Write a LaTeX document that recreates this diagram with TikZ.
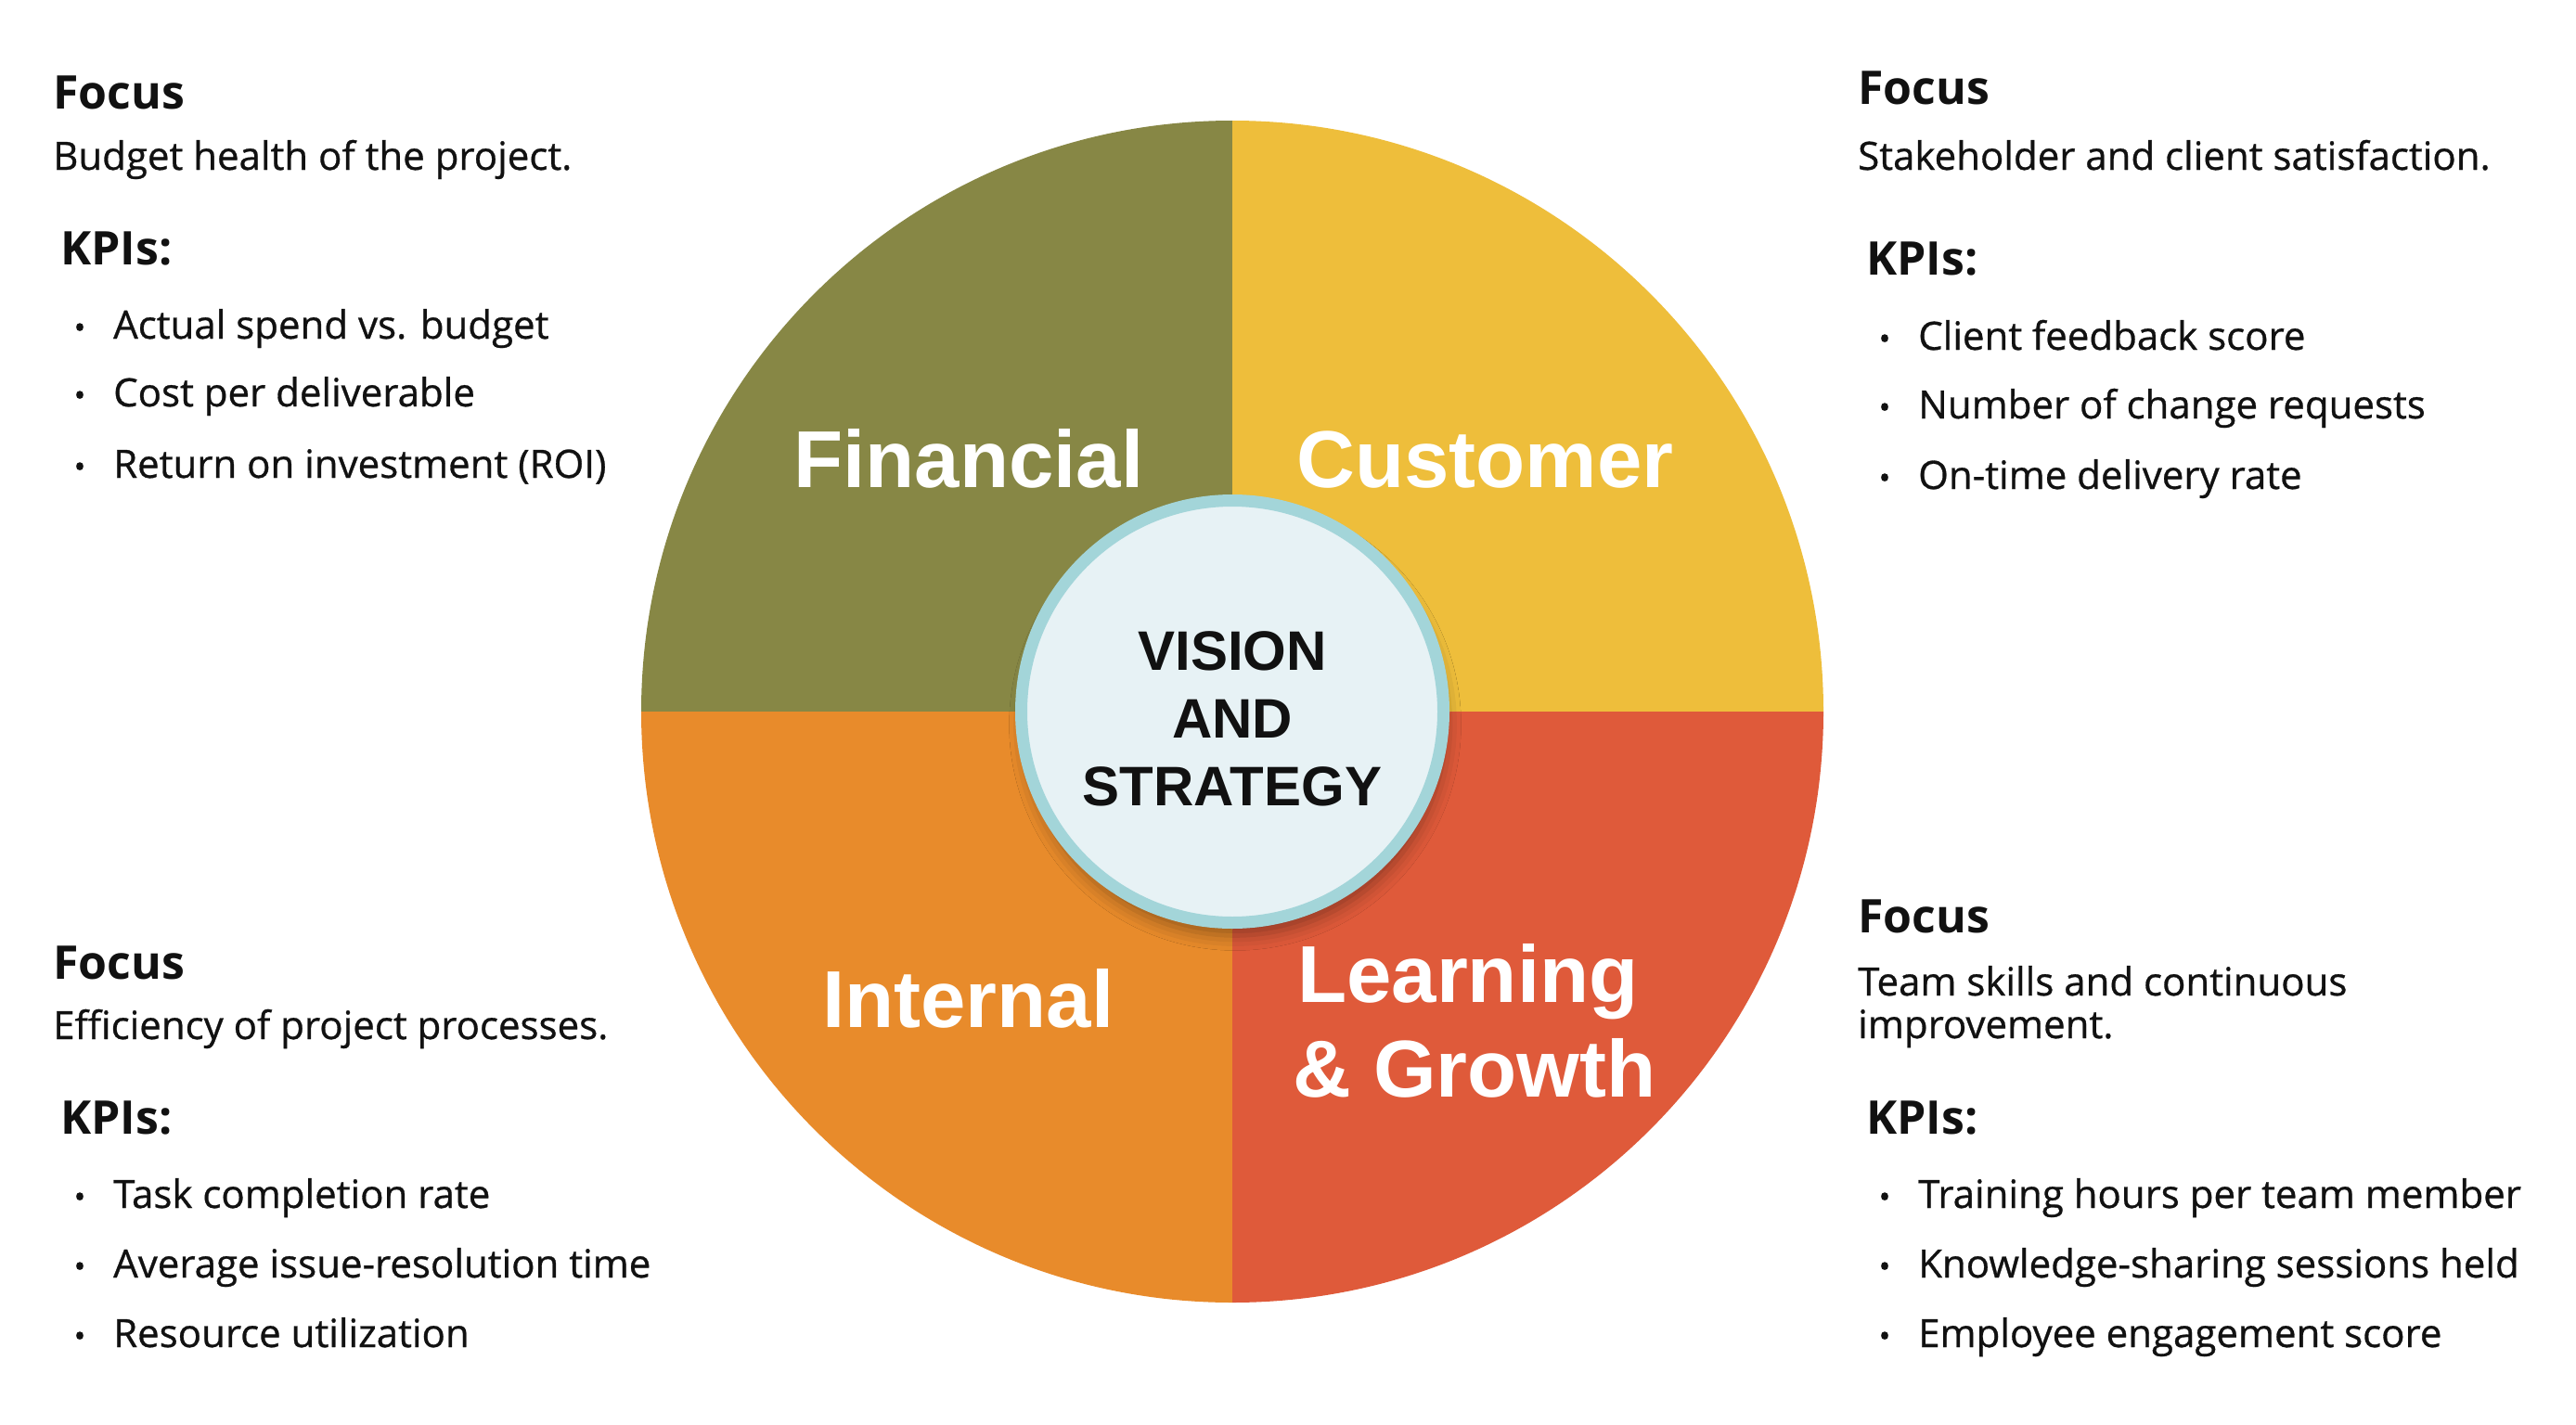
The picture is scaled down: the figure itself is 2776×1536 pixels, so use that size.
\documentclass[tikz,border=0pt]{standalone}
\usepackage{fontspec}
\setmainfont{Open Sans}
\newfontfamily\bodyfont{Open Sans}[FakeBold=0.7]
\newfontfamily\labelfont{Liberation Sans}
\usetikzlibrary{shadows.blur}
\definecolor{finc}{HTML}{878745}
\definecolor{cusc}{HTML}{EEBE3B}
\definecolor{intc}{HTML}{E88B2B}
\definecolor{lrnc}{HTML}{DF5A3A}
\definecolor{ringc}{HTML}{A3D5D9}
\definecolor{innerc}{HTML}{E7F2F5}
\definecolor{inkc}{HTML}{111111}
\tikzset{
  hdst/.style={anchor=base west, inner sep=0pt, text=inkc, font=\bfseries\fontsize{50}{60}\selectfont},
  descst/.style={anchor=base west, inner sep=0pt, text=inkc, font=\bodyfont\fontsize{42}{50}\selectfont},
  dotst/.style={anchor=base, inner sep=0pt, text=inkc, font=\bodyfont\fontsize{34}{34}\selectfont},
  itemst/.style={anchor=base west, inner sep=0pt, text=inkc, font=\bodyfont\fontsize{42}{50}\selectfont},
  quadlabel/.style={anchor=base west, inner sep=0pt, text=white, font=\labelfont\bfseries\fontsize{87}{100}\selectfont},
}
\begin{document}
\begin{tikzpicture}[x=1pt,y=-1pt]
\useasboundingbox (0,0) rectangle (2776,1536);
\fill[white] (0,0) rectangle (2776,1536);

% quadrants
\begin{scope}
  \clip (1328,767) circle[radius=637];
  \fill[finc] (1328,767) rectangle (680,120);
  \fill[cusc] (1328,767) rectangle (1976,120);
  \fill[intc] (1328,767) rectangle (680,1414);
  \fill[lrnc] (1328,767) rectangle (1976,1414);
\end{scope}

% quadrant labels
\node[quadlabel] (finlab) at (855,525) {Financial};
\node[quadlabel] (cuslab) at (1397,525) {Customer};
\node[quadlabel] (intlab) at (886,1107) {Internal};
\node[quadlabel] (lrnlab1) at (1398,1080) {Learning};
\node[quadlabel] (lrnlab2) at (1393,1182) {\&~Growth};

% center
\node[circle, draw=ringc, line width=13pt, fill=innerc, minimum size=455pt, inner sep=0pt,
      blur shadow={shadow xshift=3pt, shadow yshift=-14pt, shadow blur radius=16pt, shadow opacity=35}]
      (vision) at (1328,767) {};
\node[align=center, inner sep=0pt, text=inkc, font=\labelfont\bfseries\fontsize{60}{73}\selectfont]
      (visiontxt) at (1328,775) {VISION\\AND\\STRATEGY};

% top-left: Financial
\node[hdst] (tlfocus) at (57,118) {Focus};
\node[descst] (tldesc) at (57,183) {Budget health of the project.};
\node[hdst] (tlkpi) at (65,285) {KPIs:};
\node[dotst] (tld1) at (86,365) {•};
\node[itemst] (tli1) at (122,365) {Actual spend vs. budget};
\node[dotst] (tld2) at (86,438) {•};
\node[itemst] (tli2) at (122,438) {Cost per deliverable};
\node[dotst] (tld3) at (86,515) {•};
\node[itemst] (tli3) at (122,515) {Return on investment (ROI)};

% top-right: Customer
\node[hdst] (trfocus) at (2002,113) {Focus};
\node[descst] (trdesc) at (2002,183) {Stakeholder and client satisfaction.};
\node[hdst] (trkpi) at (2011,296) {KPIs:};
\node[dotst] (trd1) at (2031,377) {•};
\node[itemst] (tri1) at (2067,377) {Client feedback score};
\node[dotst] (trd2) at (2031,451) {•};
\node[itemst] (tri2) at (2067,451) {Number of change requests};
\node[dotst] (trd3) at (2031,527) {•};
\node[itemst] (tri3) at (2067,527) {On-time delivery rate};

% bottom-left: Internal
\node[hdst] (blfocus) at (57,1055) {Focus};
\node[descst] (bldesc) at (57,1120) {Efficiency of project processes.};
\node[hdst] (blkpi) at (65,1222) {KPIs:};
\node[dotst] (bld1) at (86,1302) {•};
\node[itemst] (bli1) at (122,1302) {Task completion rate};
\node[dotst] (bld2) at (86,1377) {•};
\node[itemst] (bli2) at (122,1377) {Average issue-resolution time};
\node[dotst] (bld3) at (86,1452) {•};
\node[itemst] (bli3) at (122,1452) {Resource utilization};

% bottom-right: Learning & Growth
\node[hdst] (brfocus) at (2002,1005) {Focus};
\node[descst] (brdesc1) at (2002,1073) {Team skills and continuous};
\node[descst] (brdesc2) at (2002,1119) {improvement.};
\node[hdst] (brkpi) at (2011,1222) {KPIs:};
\node[dotst] (brd1) at (2031,1302) {•};
\node[itemst] (bri1) at (2067,1302) {Training hours per team member};
\node[dotst] (brd2) at (2031,1377) {•};
\node[itemst] (bri2) at (2067,1377) {Knowledge-sharing sessions held};
\node[dotst] (brd3) at (2031,1452) {•};
\node[itemst] (bri3) at (2067,1452) {Employee engagement score};
\end{tikzpicture}
\end{document}
